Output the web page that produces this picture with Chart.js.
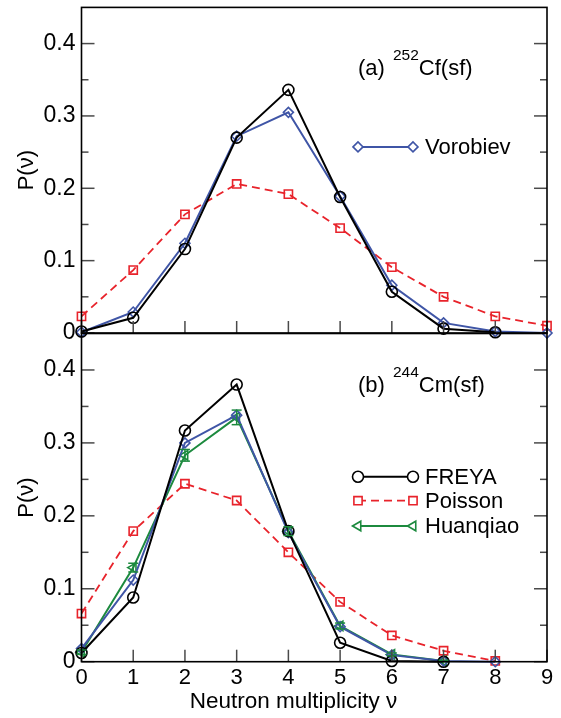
<!DOCTYPE html>
<html>
<head>
<meta charset="utf-8">
<script src="https://cdn.jsdelivr.net/npm/chart.js@4/dist/chart.umd.min.js"></script>
<style>
  body { margin: 0; background: #fff; }
  #wrap { position: relative; width: 561px; height: 718px; }
  canvas { position: absolute; left: 0; }
  #topChart { top: 0; }
  #bottomChart { top: 325px; }
</style>
</head>
<body>
<div id="wrap">
  <canvas id="topChart" width="561" height="345"></canvas>
  <canvas id="bottomChart" width="561" height="393"></canvas>
</div>
<script>
// neutron multiplicity
const nu = [0, 1, 2, 3, 4, 5, 6, 7, 8, 9];

// (a) 252Cf(sf)
const cfFreya    = [0.002, 0.021, 0.116, 0.270, 0.336, 0.188, 0.057, 0.006, 0.001];
const cfPoisson  = [0.023, 0.087, 0.164, 0.206, 0.192, 0.145, 0.091, 0.050, 0.023, 0.010];
const cfVorobiev = [0.001, 0.029, 0.124, 0.272, 0.305, 0.189, 0.066, 0.014, 0.002, 0.000];

// (b) 244Cm(sf)
const cmFreya     = [0.012, 0.088, 0.317, 0.380, 0.179, 0.026, 0.001, 0.000];
const cmPoisson   = [0.066, 0.179, 0.244, 0.221, 0.150, 0.082, 0.036, 0.015, 0.001];
const cmVorobiev  = [0.018, 0.112, 0.300, 0.338, 0.177, 0.048, 0.009, 0.001, 0.000];
const cmHuanqiao  = [0.013, 0.129, 0.283, 0.335, 0.179, 0.049, 0.010, 0.001];
const cmHuanqiaoErr = [0.003, 0.006, 0.008, 0.010, 0.006, 0.004, 0.002, 0.001];

// tick values
const xTicks = [0, 1, 2, 3, 4, 5, 6, 7, 8, 9];
const yTicks = [0, 0.1, 0.2, 0.3, 0.4];
const yMinorTicks = [0.05, 0.15, 0.25, 0.35];

const FONT = "'Liberation Sans', Arial, Helvetica, sans-serif";
Chart.defaults.font.family = FONT;
Chart.defaults.font.size = 22;
Chart.defaults.color = "#000";

const BLACK = "#000000";
const RED = "#e8232b";
const BLUE = "#3f55a6";
const GREEN = "#1c8a3e";

const styles = {
  freya:    { color: BLACK, pointStyle: "circle", radius: 5.5, rotation: 0, width: 2, dash: [] },
  poisson:  { color: RED, pointStyle: "rect", radius: 5.8, rotation: 0, width: 1.8, dash: [8, 5] },
  vorobiev: { color: BLUE, pointStyle: "rectRot", radius: 5, rotation: 0, width: 2, dash: [] },
  huanqiao: { color: GREEN, pointStyle: "triangle", radius: 5.5, rotation: -90, width: 2, dash: [] },
};

function toPoints(values) {
  return values.map((v, i) => ({ x: nu[i], y: v }));
}

function makeDataset(label, values, key, order, errors) {
  const s = styles[key];
  return {
    label: label,
    data: toPoints(values),
    borderColor: s.color,
    backgroundColor: "rgba(0,0,0,0)",
    borderWidth: s.width,
    borderDash: s.dash,
    pointStyle: s.pointStyle,
    pointRadius: s.radius,
    pointRotation: s.rotation,
    pointBorderColor: s.color,
    pointBackgroundColor: "rgba(0,0,0,0)",
    pointBorderWidth: 1.6,
    tension: 0,
    clip: false,
    order: order,
    errors: errors,
  };
}

function line(ctx, x1, y1, x2, y2) {
  ctx.beginPath();
  ctx.moveTo(x1, y1);
  ctx.lineTo(x2, y2);
  ctx.stroke();
}

// frame, inward ticks, error bars, labels and legend
const framePlugin = {
  id: "frame",
  afterDatasetsDraw(chart) {
    const ctx = chart.ctx;
    const { x, y } = chart.scales;
    chart.data.datasets.forEach((ds) => {
      if (!ds.errors) return;
      ctx.save();
      ctx.strokeStyle = ds.borderColor;
      ctx.lineWidth = 1.5;
      ds.data.forEach((p, i) => {
        const e = ds.errors[i];
        const px = x.getPixelForValue(p.x);
        const top = y.getPixelForValue(p.y + e);
        const bot = y.getPixelForValue(Math.max(p.y - e, 0));
        line(ctx, px, top, px, bot);
        line(ctx, px - 5, top, px + 5, top);
        line(ctx, px - 5, bot, px + 5, bot);
      });
      ctx.restore();
    });
  },
  afterDraw(chart, args, opts) {
    const ctx = chart.ctx;
    const a = chart.chartArea;
    const { x, y } = chart.scales;
    ctx.save();

    // ticks pointing inward
    ctx.strokeStyle = "#4a4a4a";
    ctx.lineWidth = 1.5;
    yTicks.forEach((v) => {
      const py = y.getPixelForValue(v);
      line(ctx, a.left, py, a.left + 13, py);
      line(ctx, a.right - 13, py, a.right, py);
    });
    yMinorTicks.forEach((v) => {
      const py = y.getPixelForValue(v);
      line(ctx, a.left, py, a.left + 7, py);
      line(ctx, a.right - 7, py, a.right, py);
    });
    xTicks.forEach((v) => {
      const px = x.getPixelForValue(v);
      line(ctx, px, a.bottom, px, a.bottom - 12);
    });

    // frame
    ctx.strokeStyle = "#000";
    ctx.lineWidth = 1.6;
    ctx.strokeRect(a.left, a.top, a.right - a.left, a.bottom - a.top);

    // panel label with superscript
    ctx.fillStyle = "#000";
    ctx.textBaseline = "alphabetic";
    ctx.textAlign = "left";
    let tx = opts.labelX;
    const ty = a.top + opts.labelDy;
    ctx.font = "22px " + FONT;
    ctx.fillText(opts.label[0], tx, ty);
    tx += ctx.measureText(opts.label[0]).width + 2;
    ctx.font = "15.5px " + FONT;
    ctx.fillText(opts.label[1], tx, ty - 15);
    tx += ctx.measureText(opts.label[1]).width;
    ctx.font = "22px " + FONT;
    ctx.fillText(opts.label[2], tx, ty);

    // legend: line with marker at both ends
    opts.legend.forEach((item) => {
      const s = styles[item.key];
      const ly = a.top + item.dy;
      ctx.save();
      ctx.strokeStyle = s.color;
      ctx.lineWidth = s.width;
      ctx.setLineDash(s.dash);
      line(ctx, 358, ly, 413, ly);
      ctx.restore();
      [358, 413].forEach((mx) => {
        ctx.save();
        ctx.strokeStyle = s.color;
        ctx.fillStyle = "#fff";
        ctx.lineWidth = 1.6;
        Chart.helpers.drawPoint(ctx, { pointStyle: s.pointStyle, radius: s.radius, rotation: s.rotation, borderWidth: 1.6 }, mx, ly);
        ctx.restore();
      });
      ctx.font = "22px " + FONT;
      ctx.textBaseline = "middle";
      ctx.fillStyle = "#000";
      ctx.fillText(item.text, 425, ly + 1);
    });

    // x axis title
    if (opts.xTitle) {
      ctx.font = "22.5px " + FONT;
      ctx.textAlign = "center";
      ctx.textBaseline = "middle";
      ctx.fillText(opts.xTitle, 293.5, a.bottom + 40);
    }
    ctx.restore();
  },
};

function makeOptions(showX, padding, frameOpts) {
  return {
    responsive: false,
    animation: false,
    layout: { padding: padding },
    plugins: {
      legend: { display: false },
      tooltip: { enabled: false },
      frame: frameOpts,
    },
    scales: {
      x: {
        type: "linear",
        min: 0,
        max: 9,
        display: showX,
        grid: { display: false, drawTicks: false },
        border: { display: false },
        ticks: { padding: 3, maxRotation: 0, font: { size: 22 } },
        afterBuildTicks: (scale) => { scale.ticks = xTicks.map((v) => ({ value: v })); },
        afterFit: (scale) => {
          if (showX) scale.height = 56.3;
          scale.paddingLeft = 0;
          scale.paddingRight = 0;
        },
      },
      y: {
        type: "linear",
        min: 0,
        max: 0.45,
        grid: { display: false, drawTicks: false },
        border: { display: false },
        title: { display: true, text: "P(ν)", font: { size: 22 }, padding: { top: 14, bottom: 0 } },
        ticks: {
          padding: 6,
          font: { size: 23 },
          callback: (v) => (v === 0 ? "0" : v.toFixed(1)),
        },
        afterBuildTicks: (scale) => { scale.ticks = yTicks.map((v) => ({ value: v })); },
        afterFit: (scale) => {
          scale.width = 81.5;
          scale.paddingTop = 0;
          scale.paddingBottom = 0;
        },
      },
    },
  };
}

new Chart(document.getElementById("topChart"), {
  type: "line",
  data: {
    datasets: [
      makeDataset("FREYA", cfFreya, "freya", 0),
      makeDataset("Vorobiev", cfVorobiev, "vorobiev", 1),
      makeDataset("Poisson", cfPoisson, "poisson", 3),
    ],
  },
  options: makeOptions(false, { left: 0, right: 14, top: 5, bottom: 12 }, {
    label: ["(a) ", "252", "Cf(sf)"],
    labelX: 358,
    labelDy: 68,
    legend: [{ key: "vorobiev", text: "Vorobiev", dy: 139.5 }],
  }),
  plugins: [framePlugin],
});

new Chart(document.getElementById("bottomChart"), {
  type: "line",
  data: {
    datasets: [
      makeDataset("FREYA", cmFreya, "freya", 0),
      makeDataset("Vorobiev", cmVorobiev, "vorobiev", 1),
      makeDataset("Huanqiao", cmHuanqiao, "huanqiao", 2, cmHuanqiaoErr),
      makeDataset("Poisson", cmPoisson, "poisson", 3),
    ],
  },
  options: makeOptions(true, { left: 0, right: 14, top: 8.5, bottom: 0 }, {
    label: ["(b) ", "244", "Cm(sf)"],
    labelX: 358,
    labelDy: 58.5,
    legend: [
      { key: "freya", text: "FREYA", dy: 143.2 },
      { key: "poisson", text: "Poisson", dy: 167.2 },
      { key: "huanqiao", text: "Huanqiao", dy: 192.5 },
    ],
    xTitle: "Neutron multiplicity ν",
  }),
  plugins: [framePlugin],
});
</script>
</body>
</html>
